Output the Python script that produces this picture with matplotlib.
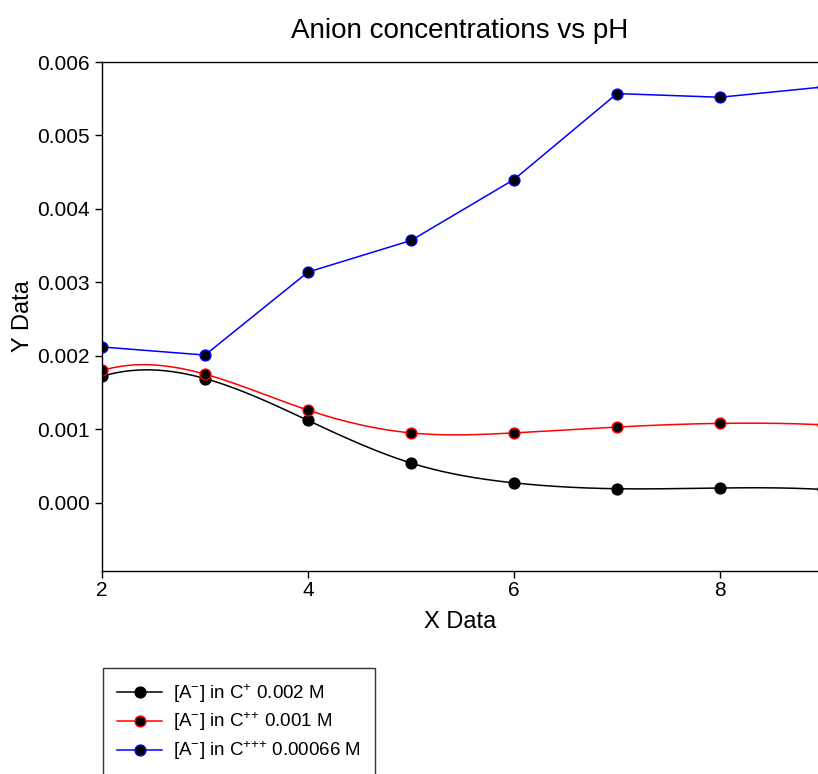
import numpy as np
import matplotlib
matplotlib.use("Agg")
import matplotlib.pyplot as plt

plt.rcParams['font.family'] = ['Liberation Sans', 'DejaVu Sans']
plt.rcParams['mathtext.fontset'] = 'custom'
plt.rcParams['mathtext.rm'] = 'Liberation Sans'
plt.rcParams['mathtext.it'] = 'Liberation Sans'

# ---- data ----
x_vals = [2, 3, 4, 5, 6, 7, 8, 9]
y_c1 = [0.00172, 0.00169, 0.00112, 0.00054, 0.00027, 0.00019, 0.00020, 0.00018]
y_c2 = [0.00180, 0.00175, 0.00126, 0.00095, 0.00095, 0.00103, 0.00108, 0.00106]
y_c3 = [0.00212, 0.00201, 0.00314, 0.00357, 0.00440, 0.00557, 0.00552, 0.00566]
labels = [r'[A$^{\mathregular{-}}$] in C$^{\mathregular{+}}$ 0.002 M',
          r'[A$^{\mathregular{-}}$] in C$^{\mathregular{{+}{+}}}$ 0.001 M',
          r'[A$^{\mathregular{-}}$] in C$^{\mathregular{{+}{+}{+}}}$ 0.00066 M']
colors = ['black', 'red', 'blue']
smooth = [True, True, False]
x_ticks = [2, 4, 6, 8]
y_ticks = [0.000, 0.001, 0.002, 0.003, 0.004, 0.005, 0.006]


def spline_curve(x, y, n=400):
    """Not-a-knot cubic spline drawn through the data points."""
    x = np.asarray(x, float); y = np.asarray(y, float)
    k = len(x)
    h = np.diff(x)
    A = np.zeros((k, k)); b = np.zeros(k)
    A[0, 0] = h[1]; A[0, 1] = -(h[0] + h[1]); A[0, 2] = h[0]
    A[-1, -3] = h[-1]; A[-1, -2] = -(h[-2] + h[-1]); A[-1, -1] = h[-2]
    for i in range(1, k - 1):
        A[i, i - 1] = h[i - 1]
        A[i, i] = 2 * (h[i - 1] + h[i])
        A[i, i + 1] = h[i]
        b[i] = 6 * ((y[i + 1] - y[i]) / h[i] - (y[i] - y[i - 1]) / h[i - 1])
    M = np.linalg.solve(A, b)
    xs = np.linspace(x[0], x[-1], n)
    idx = np.clip(np.searchsorted(x, xs) - 1, 0, k - 2)
    x0 = x[idx]; x1 = x[idx + 1]; hh = x1 - x0
    t0 = x1 - xs; t1 = xs - x0
    ys = (M[idx] * t0 ** 3 / (6 * hh) + M[idx + 1] * t1 ** 3 / (6 * hh)
          + (y[idx] / hh - M[idx] * hh / 6) * t0
          + (y[idx + 1] / hh - M[idx + 1] * hh / 6) * t1)
    return xs, ys


fig = plt.figure(figsize=(8.18, 7.74), dpi=100)
ax = fig.add_axes([102 / 818, 1 - 571 / 774, 1 - 102 / 818, (571 - 62) / 774])

series = [y_c1, y_c2, y_c3]
handles = []
for ys, c, sm, lab in zip(series, colors, smooth, labels):
    if sm:
        xs, yy = spline_curve(x_vals, ys)
        ax.plot(xs, yy, color=c, lw=1.1)
    else:
        ax.plot(x_vals, ys, color=c, lw=1.1)
    ax.plot(x_vals, ys, linestyle='none', marker='o', ms=7.8,
            mfc='black', mec=c, mew=1.0)
    h, = ax.plot([], [], color=c, lw=1.1, marker='o', ms=7.8,
                 mfc='black', mec=c, mew=1.0, label=lab)
    handles.append(h)

ax.set_xlim(2, 2 + (818 - 102) / 103)
ax.set_ylim(-0.00093, 0.006)
ax.set_xticks(x_ticks)
ax.set_yticks(y_ticks)
ax.set_yticklabels([f'{v:.3f}' for v in y_ticks])
ax.spines['right'].set_visible(False)
for s in ['left', 'bottom', 'top']:
    ax.spines[s].set_linewidth(1.0)
ax.tick_params(direction='out', length=5, width=1, labelsize=15, pad=4)
ax.tick_params(axis='x', pad=2)
ax.set_xlabel('X Data', fontsize=17, labelpad=8)
ax.set_ylabel('Y Data', fontsize=17, labelpad=2)
ax.set_title('Anion concentrations vs pH', fontsize=20, pad=17)

leg = fig.legend(handles=handles, loc='upper left',
                 bbox_to_anchor=(103 / 818, 1 - 668 / 774),
                 fontsize=13.5, frameon=True, fancybox=False,
                 edgecolor='black', borderpad=0.75, labelspacing=0.32,
                 handlelength=2.4, handletextpad=0.6, borderaxespad=0)
leg.get_frame().set_linewidth(1.0)

fig.savefig('out.png', dpi=100)
